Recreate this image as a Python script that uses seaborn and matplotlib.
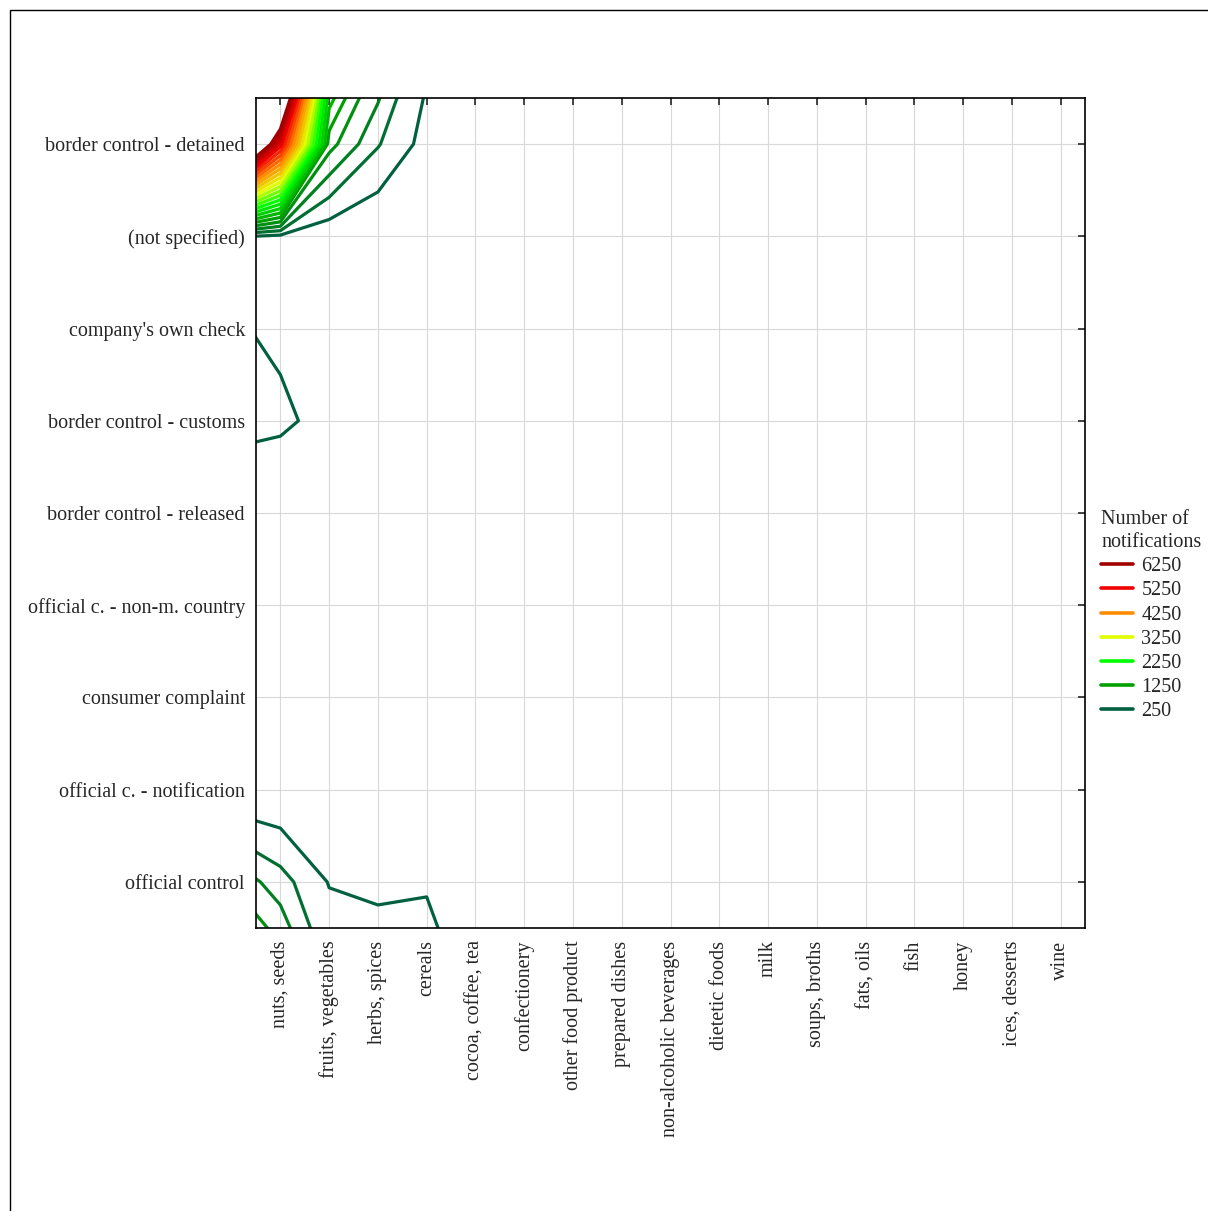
import matplotlib
matplotlib.use("Agg")
import matplotlib.pyplot as plt
import numpy as np
import seaborn as sns
from matplotlib.colors import LinearSegmentedColormap, Normalize
from matplotlib.lines import Line2D
from matplotlib.patches import Rectangle

food_categories = ["nuts, seeds", "fruits, vegetables", "herbs, spices", "cereals",
                   "cocoa, coffee, tea", "confectionery", "other food product",
                   "prepared dishes", "non-alcoholic beverages", "dietetic foods",
                   "milk", "soups, broths", "fats, oils", "fish", "honey",
                   "ices, desserts", "wine"]

# bottom to top
notification_types = ["official control", "official c. - notification",
                      "consumer complaint", "official c. - non-m. country",
                      "border control - released", "border control - customs",
                      "company's own check", "(not specified)",
                      "border control - detained"]

# number of notifications, one row per notification type (bottom to top),
# first food categories only; the remaining categories are close to zero
row_official_control = [600, 235, 200, 215, 60, 20]
row_official_notification = [0, 0, 0, 0, 0, 0]
row_consumer_complaint = [0, 0, 0, 0, 0, 0]
row_non_member = [0, 0, 0, 0, 0, 0]
row_released = [0, 200, 0, 0, 0, 0]
row_customs = [300, 165, 0, 0, 0, 0]
row_own_check = [200, 120, 0, 0, 0, 0]
row_not_specified = [180, 60, 0, 0, 0, 0]
row_detained = [5400, 1100, 520, 150, 50, 0]

legend_levels = [6250, 5250, 4250, 3250, 2250, 1250, 250]
legend_colors = ["#a00000", "#f00000", "#ff8c00", "#e0ff00", "#00ff00", "#00a000", "#006040"]

rows = [row_official_control, row_official_notification, row_consumer_complaint,
        row_non_member, row_released, row_customs, row_own_check,
        row_not_specified, row_detained]
counts = np.zeros((len(notification_types), len(food_categories)))
for j, r in enumerate(rows):
    counts[j, :len(r)] = r

# extend the surface one step past every edge so lines run out of the frame
surface = np.pad(counts, 1, mode="reflect", reflect_type="odd")
xs = np.arange(-1, len(food_categories) + 1)
ys = np.arange(-1, len(notification_types) + 1)

levels = np.arange(250, 6251, 250)
cmap = LinearSegmentedColormap.from_list("notif", legend_colors[::-1])
norm = Normalize(vmin=250, vmax=6250)

sns.set_style("white")
plt.rcParams["font.family"] = ["Liberation Serif", "DejaVu Serif"]

fig = plt.figure(figsize=(12.08, 12.11), dpi=100)
ax = fig.add_axes([256 / 1208, 1 - 928 / 1211, (1085 - 256) / 1208, (928 - 98) / 1211])

ax.contour(xs, ys, surface, levels=levels, cmap=cmap, norm=norm, linewidths=2.3)

ax.set_xlim(-0.5, len(food_categories) - 0.5)
ax.set_ylim(-0.5, len(notification_types) - 0.5)
ax.set_xticks(range(len(food_categories)))
ax.set_xticklabels(food_categories, rotation=90, fontsize=14.5)
ax.set_yticks(range(len(notification_types)))
ax.set_yticklabels(notification_types, fontsize=14.5)
ax.grid(True, color="#d8d8d8", linewidth=0.8)
ax.tick_params(direction="in", length=5, width=1.2, top=True, right=True,
               labeltop=False, labelright=False, pad=9)
ax.tick_params(axis="y", pad=8)
for sp in ax.spines.values():
    sp.set_linewidth(1.2)
    sp.set_color("black")

handles = [Line2D([0], [0], color=c, lw=2.6) for c in legend_colors]
leg = fig.legend(handles, [str(v) for v in legend_levels], title="Number of\nnotifications",
                 loc="upper left", bbox_to_anchor=(1101 / 1208, 1 - 510 / 1211),
                 frameon=False, fontsize=14.5, title_fontsize=14.5, handlelength=1.6,
                 handletextpad=0.4, labelspacing=0.25, alignment="left",
                 borderpad=0, borderaxespad=0)
leg.get_title().set_linespacing(1.3)

fig.add_artist(Rectangle((10 / 1208, -0.1), 1.2, 1.1 - 10 / 1211, transform=fig.transFigure,
                         fill=False, edgecolor="black", linewidth=1.0))

fig.savefig("out.png", dpi=100)
